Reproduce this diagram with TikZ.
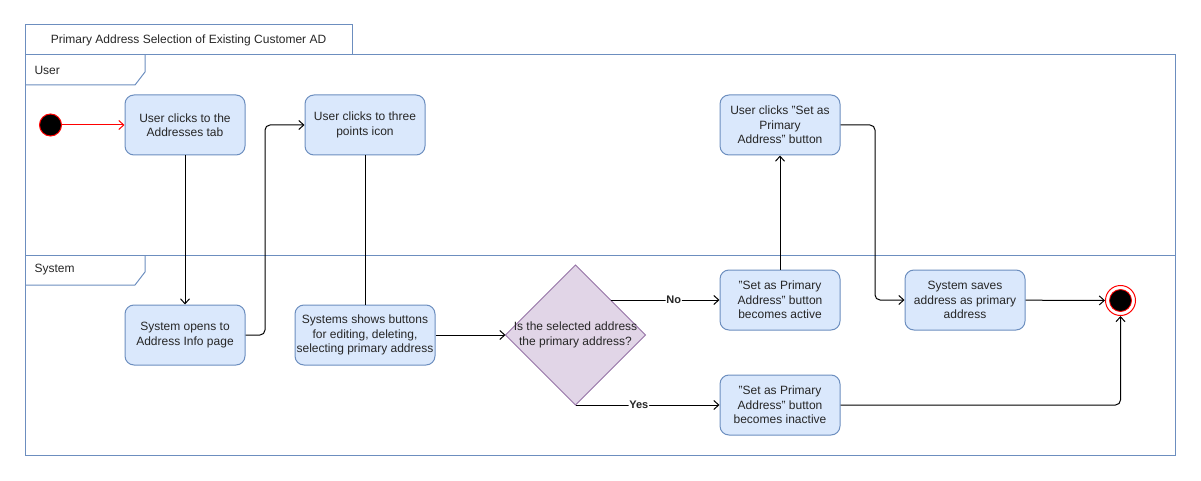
\documentclass[tikz,border=0pt]{standalone}
\usepackage{fontspec}
\setmainfont{Liberation Sans}
\usetikzlibrary{arrows.meta,shapes.geometric}
\definecolor{laneblue}{HTML}{6C8EBF}
\definecolor{boxfill}{HTML}{DAE8FC}
\definecolor{decfill}{HTML}{E1D5E7}
\definecolor{decline}{HTML}{9673A6}
\definecolor{startred}{HTML}{FF0000}
\tikzset{
  x=1pt, y=-1pt,
  every node/.style={font=\fontsize{12}{14.5}\selectfont, text=black!85},
  actbox/.style={draw=laneblue, fill=boxfill, rounded corners=9pt, minimum width=120pt, minimum height=60pt, align=center, inner sep=1pt, line width=1pt},
  decshape/.style={draw=decline, fill=decfill, line width=1pt},
  flow/.style={line width=1pt, draw=black, -{Straight Barb[length=5pt,width=9pt]}, rounded corners=5pt},
  plainflow/.style={line width=1pt, draw=black},
  lanebox/.style={draw=laneblue, line width=1pt},
  elabel/.style={fill=white, inner sep=1pt, font=\fontsize{11}{13}\selectfont\bfseries},
}
\begin{document}
\begin{tikzpicture}
\useasboundingbox (0,0) rectangle (1201,481);
% pool frame
\draw[lanebox] (25,25) rectangle (352,55);
\node (title) at (188.5,40) {Primary Address Selection of Existing Customer AD};
\draw[lanebox] (25,55) rectangle (1175,455);
\draw[lanebox] (25,255) -- (1175,255);
% lane tabs
\draw[lanebox] (25,85) -- (135,85) -- (145,72) -- (145,55);
\node[anchor=west] (userlbl) at (31,70) {User};
\draw[lanebox] (25,285) -- (135,285) -- (145,272) -- (145,255);
\node[anchor=west] (syslbl) at (31,270) {System};
% start
\node[circle, draw=startred, fill=black, minimum size=22pt, inner sep=0pt, line width=1pt] (start) at (50.5,125) {};
% nodes
\node[actbox] (A) at (185,125) {User clicks to the\\Addresses tab};
\node[actbox] (B) at (365,125) {User clicks to three\\points icon};
\node[actbox] (C) at (185,335) {System opens to\\Address Info page};
\node[actbox, minimum width=140pt] (D) at (365,335) {Systems shows buttons\\for editing, deleting,\\selecting primary address};
% decision
\coordinate (Qtop) at (575.5,265);
\coordinate (Qbot) at (575.5,405);
\coordinate (Qleft) at (505.5,335);
\coordinate (Qright) at (645.5,335);
\coordinate (Qno) at (610.5,300);
\draw[decshape] (Qtop) -- (Qright) -- (Qbot) -- (Qleft) -- cycle;
\node[align=center, inner sep=0pt] (Q) at (575.5,335) {Is the selected address\\the primary address?};
\node[actbox] (E) at (780,300) {"Set as Primary\\Address" button\\becomes active};
\node[actbox] (F) at (780,405) {"Set as Primary\\Address" button\\becomes inactive};
\node[actbox] (G) at (780,125) {User clicks "Set as\\Primary\\Address" button};
\node[actbox] (H) at (965,300) {System saves\\address as primary\\address};
% end
\node[circle, draw=startred, fill=white, minimum size=30pt, inner sep=0pt, line width=1pt] (endo) at (1120.5,300.5) {};
\node[circle, draw=startred, fill=black, minimum size=22pt, inner sep=0pt, line width=0.8pt] (endi) at (1120.5,300.5) {};
% edges
\draw[flow, draw=startred] (start) -- (A);
\draw[flow] (A) -- (C);
\draw[flow] (C.east) -- (265,335) -- (265,125) -- (B.west);
\draw[plainflow] (B) -- (D);
\draw[flow] (D) -- (Qleft);
\draw[flow] (Qno) -- node[elabel, pos=0.58] (nolbl) {No} (E.west);
\draw[flow] (Qbot) -- node[elabel, pos=0.44] (yeslbl) {Yes} (F.west);
\draw[flow] (E) -- (G);
\draw[flow] (G.east) -- (875,125) -- (875,300) -- (H.west);
\draw[flow] (H) -- (endo);
\draw[flow] (F.east) -- (1120.5,405) -- (endo.south);
\end{tikzpicture}
\end{document}
